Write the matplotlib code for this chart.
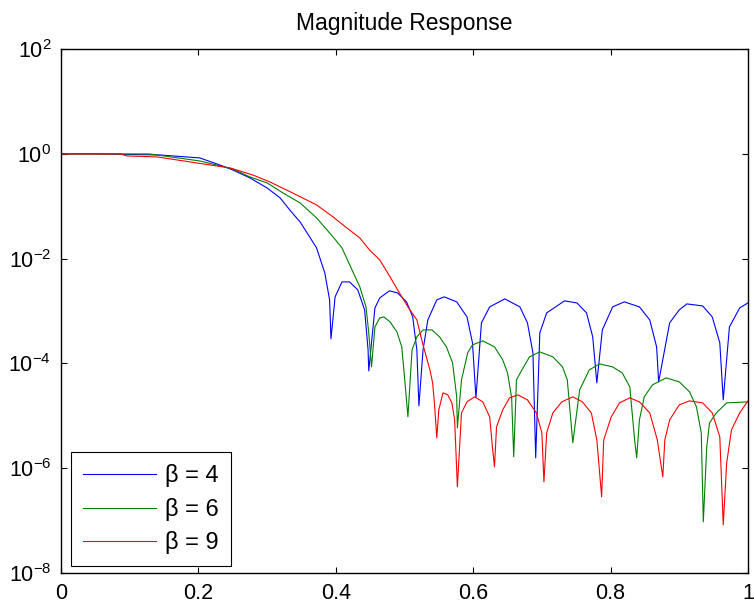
import numpy as np
import matplotlib
matplotlib.use("Agg")
import matplotlib.pyplot as plt
from matplotlib.ticker import NullLocator

plt.rcParams['font.family'] = ['Liberation Sans', 'DejaVu Sans']
plt.rcParams['mathtext.fontset'] = 'custom'
plt.rcParams['mathtext.rm'] = 'Liberation Sans'
plt.rcParams['mathtext.it'] = 'Liberation Sans:italic'

# normalized frequency and log10 of magnitude
f_b4 = [0.0, 0.057, 0.144, 0.202, 0.231, 0.250, 0.275, 0.300, 0.319, 0.333, 0.348,
        0.362, 0.372, 0.384, 0.391, 0.393, 0.399, 0.409, 0.420, 0.432, 0.442, 0.447,
        0.448, 0.457, 0.464, 0.478, 0.490, 0.503, 0.512, 0.518, 0.521, 0.527, 0.534,
        0.547, 0.558, 0.576, 0.591, 0.599, 0.604, 0.612, 0.624, 0.646, 0.668, 0.679,
        0.687, 0.691, 0.697, 0.707, 0.733, 0.751, 0.765, 0.774, 0.780, 0.788, 0.803,
        0.820, 0.842, 0.857, 0.867, 0.870, 0.886, 0.900, 0.911, 0.934, 0.948, 0.959,
        0.964, 0.973, 0.988, 1.0]
e_b4 = [0.0, 0.0, -0.02, -0.076, -0.21, -0.305, -0.458, -0.649, -0.840, -1.069, -1.298,
        -1.584, -1.794, -2.271, -2.786, -3.53, -2.729, -2.443, -2.443, -2.595, -2.977, -3.740,
        -4.141, -2.939, -2.748, -2.614, -2.653, -2.824, -3.111, -3.740, -4.809, -3.740, -3.168,
        -2.786, -2.729, -2.824, -3.111, -3.607, -4.656, -3.225, -2.920, -2.767, -2.920, -3.225,
        -3.798, -5.802, -3.416, -3.034, -2.805, -2.844, -3.034, -3.492, -4.370, -3.359, -2.920,
        -2.824, -2.920, -3.168, -3.683, -4.351, -3.225, -2.977, -2.863, -2.901, -3.111, -3.607,
        -4.695, -3.302, -2.939, -2.844]

f_b6 = [0.0, 0.129, 0.202, 0.250, 0.275, 0.300, 0.323, 0.348, 0.372, 0.396, 0.409,
        0.417, 0.425, 0.435, 0.444, 0.448, 0.452, 0.457, 0.464, 0.470, 0.479, 0.489,
        0.496, 0.500, 0.505, 0.511, 0.518, 0.527, 0.540, 0.551, 0.561, 0.570, 0.576,
        0.577, 0.583, 0.592, 0.599, 0.614, 0.631, 0.643, 0.650, 0.656, 0.659, 0.663,
        0.671, 0.682, 0.697, 0.716, 0.730, 0.737, 0.745, 0.755, 0.769, 0.784, 0.803,
        0.817, 0.828, 0.835, 0.838, 0.842, 0.849, 0.861, 0.881, 0.900, 0.915, 0.925,
        0.932, 0.935, 0.940, 0.944, 0.954, 0.969, 1.0]
e_b6 = [0.0, 0.0, -0.134, -0.286, -0.439, -0.553, -0.744, -0.935, -1.221, -1.584, -1.794,
        -2.023, -2.252, -2.538, -2.920, -3.416, -4.065, -3.302, -3.130, -3.111, -3.206, -3.397,
        -3.683, -4.256, -5.019, -3.740, -3.492, -3.359, -3.359, -3.492, -3.683, -3.989, -4.637,
        -5.229, -4.313, -3.798, -3.645, -3.569, -3.683, -3.931, -4.179, -4.656, -5.782, -4.313,
        -4.122, -3.874, -3.779, -3.874, -4.065, -4.313, -5.515, -4.504, -4.122, -4.008, -4.065,
        -4.179, -4.447, -5.458, -5.802, -5.076, -4.637, -4.408, -4.275, -4.351, -4.542, -4.828,
        -5.324, -7.023, -5.592, -5.134, -4.943, -4.752, -4.733]

f_b9 = [0.0, 0.086, 0.096, 0.140, 0.188, 0.246, 0.279, 0.304, 0.337, 0.372, 0.396,
        0.416, 0.435, 0.449, 0.464, 0.479, 0.490, 0.505, 0.518, 0.527, 0.537, 0.541,
        0.544, 0.547, 0.550, 0.556, 0.563, 0.569, 0.573, 0.577, 0.583, 0.591, 0.602,
        0.614, 0.624, 0.628, 0.631, 0.634, 0.643, 0.653, 0.665, 0.679, 0.692, 0.700,
        0.703, 0.707, 0.716, 0.729, 0.745, 0.759, 0.772, 0.780, 0.787, 0.790, 0.801,
        0.813, 0.828, 0.842, 0.857, 0.868, 0.876, 0.879, 0.886, 0.900, 0.915, 0.934,
        0.948, 0.959, 0.964, 0.969, 0.976, 0.988, 1.0]
e_b9 = [0.0, 0.0, -0.038, -0.057, -0.153, -0.267, -0.401, -0.534, -0.744, -0.973, -1.202,
        -1.412, -1.603, -1.832, -2.023, -2.347, -2.595, -2.920, -3.168, -3.645, -4.122, -4.370,
        -4.828, -5.420, -4.885, -4.561, -4.599, -4.752, -5.076, -6.355, -4.943, -4.733, -4.637,
        -4.733, -5.019, -5.592, -5.973, -5.210, -4.885, -4.656, -4.599, -4.695, -4.943, -5.324,
        -6.260, -5.324, -4.943, -4.733, -4.637, -4.733, -4.943, -5.458, -6.546, -5.458, -5.019,
        -4.752, -4.656, -4.733, -4.943, -5.458, -6.164, -5.458, -5.076, -4.790, -4.714, -4.752,
        -4.943, -5.401, -7.080, -5.897, -5.267, -4.943, -4.714]

series = [(f_b4, e_b4, '#0000ff', 'β = 4'),
          (f_b6, e_b6, '#008000', 'β = 6'),
          (f_b9, e_b9, '#ff0000', 'β = 9')]

xticks = [0, 0.2, 0.4, 0.6, 0.8, 1]
xlabels = ['0', '0.2', '0.4', '0.6', '0.8', '1']
yexp = [-8, -6, -4, -2, 0, 2]

fig = plt.figure(figsize=(7.54, 6.07), dpi=100)
ax = fig.add_axes([0.0809, 0.056, 0.9111, 0.863])

for f, e, c, lab in series:
    ax.semilogy(f, 10.0 ** np.array(e), color=c, lw=0.8, label=lab)

ax.set_xlim(0, 1)
ax.set_ylim(1e-8, 1e2)
ax.set_xticks(xticks)
ax.set_xticklabels(xlabels)
ax.set_yticks([10.0 ** k for k in yexp])
ax.set_yticklabels([r'$\mathregular{10^{%d}}$' % k for k in yexp])
ax.yaxis.set_minor_locator(NullLocator())
ax.tick_params(direction='in', length=4, width=0.8, top=True, right=True,
               labelsize=15.5, pad=7)
for s in ax.spines.values():
    s.set_linewidth(1.0)

ax.set_title('Magnitude Response', fontsize=16.5, pad=14)

leg = ax.legend(loc='lower left', bbox_to_anchor=(0.0145, 0.013), borderaxespad=0,
                fontsize=17, fancybox=False, framealpha=1, edgecolor='black',
                handlelength=3.1, handletextpad=0.4, labelspacing=0.45, borderpad=0.5)
leg.get_frame().set_linewidth(0.8)

fig.savefig('out.png', dpi=100)
